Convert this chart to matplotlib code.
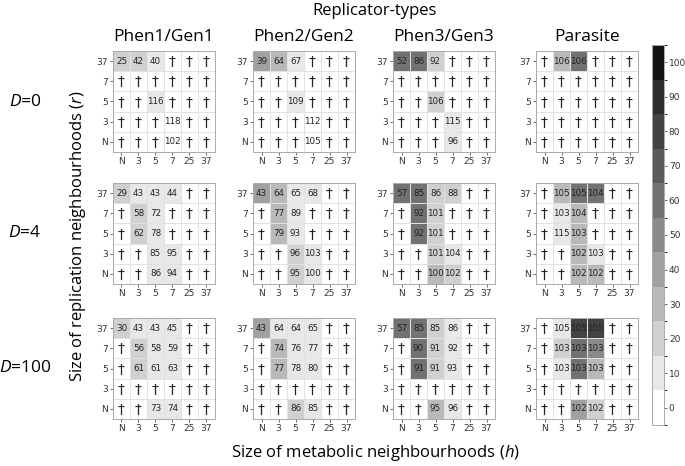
import numpy as np
import matplotlib.pyplot as plt
from matplotlib.colors import ListedColormap, BoundaryNorm
from matplotlib.cm import ScalarMappable

plt.rcParams['font.family'] = ['Open Sans', 'DejaVu Sans']
plt.rcParams['mathtext.fontset'] = 'custom'
plt.rcParams['mathtext.rm'] = 'Open Sans'
plt.rcParams['mathtext.it'] = 'Open Sans:italic'

X = np.nan  # dead population (dagger)

types = ["Phen1/Gen1", "Phen2/Gen2", "Phen3/Gen3", "Parasite"]
d_values = ["0", "4", "100"]
r_labels = ["37", "7", "5", "3", "N"]
h_labels = ["N", "3", "5", "7", "25", "37"]

# printed numbers, rows r = 37,7,5,3,N ; cols h = N,3,5,7,25,37
vals_d0 = [
    [[25, 42, 40, X, X, X], [X, X, X, X, X, X], [X, X, 116, X, X, X], [X, X, X, 118, X, X], [X, X, X, 102, X, X]],
    [[39, 64, 67, X, X, X], [X, X, X, X, X, X], [X, X, 109, X, X, X], [X, X, X, 112, X, X], [X, X, X, 105, X, X]],
    [[52, 86, 92, X, X, X], [X, X, X, X, X, X], [X, X, 106, X, X, X], [X, X, X, 115, X, X], [X, X, X, 96, X, X]],
    [[X, 106, 106, X, X, X], [X, X, X, X, X, X], [X, X, X, X, X, X], [X, X, X, X, X, X], [X, X, X, X, X, X]],
]
vals_d4 = [
    [[29, 43, 43, 44, X, X], [X, 58, 72, X, X, X], [X, 62, 78, X, X, X], [X, X, 85, 95, X, X], [X, X, 86, 94, X, X]],
    [[43, 64, 65, 68, X, X], [X, 77, 89, X, X, X], [X, 79, 93, X, X, X], [X, X, 96, 103, X, X], [X, X, 95, 100, X, X]],
    [[57, 85, 86, 88, X, X], [X, 92, 101, X, X, X], [X, 92, 101, X, X, X], [X, X, 101, 104, X, X], [X, X, 100, 102, X, X]],
    [[X, 105, 105, 104, X, X], [X, 103, 104, X, X, X], [X, 115, 103, X, X, X], [X, X, 102, 103, X, X], [X, X, 102, 102, X, X]],
]
vals_d100 = [
    [[30, 43, 43, 45, X, X], [X, 56, 58, 59, X, X], [X, 61, 61, 63, X, X], [X, X, X, X, X, X], [X, X, 73, 74, X, X]],
    [[43, 64, 64, 65, X, X], [X, 74, 76, 77, X, X], [X, 77, 78, 80, X, X], [X, X, X, X, X, X], [X, X, 86, 85, X, X]],
    [[57, 85, 85, 86, X, X], [X, 90, 91, 92, X, X], [X, 91, 91, 93, X, X], [X, X, X, X, X, X], [X, X, 95, 96, X, X]],
    [[X, 105, 105, 105, X, X], [X, 103, 103, 103, X, X], [X, 103, 103, 103, X, X], [X, X, X, X, X, X], [X, X, 102, 102, X, X]],
]

# cell shading (colour bar scale)
shade_d0 = [
    [[20, 20, 10, 0, 0, 0], [0, 0, 0, 0, 0, 0], [0, 0, 5, 0, 0, 0], [0, 0, 0, 3, 0, 0], [0, 0, 0, 3, 0, 0]],
    [[40, 30, 10, 0, 0, 0], [0, 0, 0, 0, 0, 0], [0, 0, 10, 0, 0, 0], [0, 0, 0, 3, 0, 0], [0, 0, 0, 3, 0, 0]],
    [[55, 55, 15, 0, 0, 0], [0, 0, 0, 0, 0, 0], [0, 0, 15, 0, 0, 0], [0, 0, 0, 5, 0, 0], [0, 0, 0, 5, 0, 0]],
    [[0, 25, 55, 0, 0, 0], [0, 0, 0, 0, 0, 0], [0, 0, 0, 0, 0, 0], [0, 0, 0, 0, 0, 0], [0, 0, 0, 0, 0, 0]],
]
shade_d4 = [
    [[20, 10, 10, 5, 0, 0], [0, 15, 8, 0, 0, 0], [0, 15, 8, 0, 0, 0], [0, 0, 8, 5, 0, 0], [0, 0, 8, 5, 0, 0]],
    [[40, 30, 10, 5, 0, 0], [0, 30, 10, 0, 0, 0], [0, 30, 10, 0, 0, 0], [0, 0, 15, 5, 0, 0], [0, 0, 15, 8, 0, 0]],
    [[60, 55, 20, 15, 0, 0], [0, 60, 20, 0, 0, 0], [0, 60, 20, 0, 0, 0], [0, 0, 20, 10, 0, 0], [0, 0, 25, 15, 0, 0]],
    [[0, 25, 60, 60, 0, 0], [0, 10, 25, 0, 0, 0], [0, 5, 25, 0, 0, 0], [0, 0, 25, 5, 0, 0], [0, 0, 25, 30, 0, 0]],
]
shade_d100 = [
    [[20, 10, 8, 5, 0, 0], [0, 15, 8, 5, 0, 0], [0, 15, 8, 5, 0, 0], [0, 0, 0, 0, 0, 0], [0, 0, 8, 5, 0, 0]],
    [[40, 10, 8, 5, 0, 0], [0, 30, 10, 5, 0, 0], [0, 30, 10, 5, 0, 0], [0, 0, 0, 0, 0, 0], [0, 0, 15, 5, 0, 0]],
    [[60, 60, 15, 8, 0, 0], [0, 60, 15, 8, 0, 0], [0, 60, 15, 8, 0, 0], [0, 0, 0, 0, 0, 0], [0, 0, 25, 8, 0, 0]],
    [[0, 8, 75, 75, 0, 0], [0, 15, 55, 45, 0, 0], [0, 10, 55, 25, 0, 0], [0, 0, 0, 0, 0, 0], [0, 0, 40, 20, 0, 0]],
]

all_vals = [vals_d0, vals_d4, vals_d100]
all_shade = [shade_d0, shade_d4, shade_d100]

W, H = 685, 466
fig = plt.figure(figsize=(W / 100, H / 100), dpi=100)

bounds = np.arange(-5, 115, 10)
cmap = ListedColormap(plt.get_cmap('gray_r')(np.linspace(0, 0.92, len(bounds) - 1)))
norm = BoundaryNorm(bounds, cmap.N)

lefts = [113, 253, 393, 536]
tops = [51, 183, 318]
pw, ph = 102, 101

for i in range(3):
    for j in range(4):
        ax = fig.add_axes([lefts[j] / W, 1 - (tops[i] + ph) / H, pw / W, ph / H])
        sh = np.array(all_shade[i][j], dtype=float)
        v = np.array(all_vals[i][j], dtype=float)
        ax.pcolormesh(sh, cmap=cmap, norm=norm, edgecolors='#e2e2e2', linewidth=0.6)
        ax.set_xlim(0, 6)
        ax.set_ylim(5, 0)
        ax.set_xticks(np.arange(6) + 0.5, h_labels)
        ax.set_yticks(np.arange(5) + 0.5, r_labels)
        ax.tick_params(labelsize=6.5, length=2, width=0.5, pad=1.5,
                       colors='#333333', labelfontfamily='DejaVu Sans')
        for s in ax.spines.values():
            s.set_color('#aaaaaa')
            s.set_linewidth(0.7)
        for r in range(5):
            for c in range(6):
                if np.isnan(v[r, c]):
                    ax.text(c + 0.5, r + 0.55, "\u2020", ha='center', va='center',
                            fontsize=10, color='#222222', family='DejaVu Sans')
                else:
                    ax.text(c + 0.5, r + 0.5, str(int(v[r, c])), ha='center', va='center',
                            fontsize=6.3, color='#222222', family='DejaVu Sans')
        if i == 0:
            fig.text((lefts[j] + pw / 2) / W, 1 - 37 / H, types[j],
                     ha='center', va='center', fontsize=12.5)
    fig.text(25 / W, 1 - (tops[i] + ph / 2) / H, "$D$=" + d_values[i],
             ha='center', va='center', fontsize=12.5)

fig.text(375 / W, 1 - 11 / H, "Replicator-types", ha='center', va='center', fontsize=12)
fig.text(375 / W, 1 - 453 / H, "Size of metabolic neighbourhoods ($h$)",
         ha='center', va='center', fontsize=12)
fig.text(78 / W, 1 - 236 / H, "Size of replication neighbourhoods ($r$)",
         ha='center', va='center', rotation=90, fontsize=12)

cax = fig.add_axes([652 / W, 1 - 425 / H, 12 / W, 380 / H])
cb = fig.colorbar(ScalarMappable(norm=norm, cmap=cmap), cax=cax, ticks=np.arange(0, 101, 10))
cb.ax.tick_params(labelsize=6.5, length=2, width=0.5, pad=1.5, colors='#333333',
                  labelfontfamily='DejaVu Sans')
cb.outline.set_edgecolor('#aaaaaa')
cb.outline.set_linewidth(0.7)

fig.savefig("out.png", dpi=100)
